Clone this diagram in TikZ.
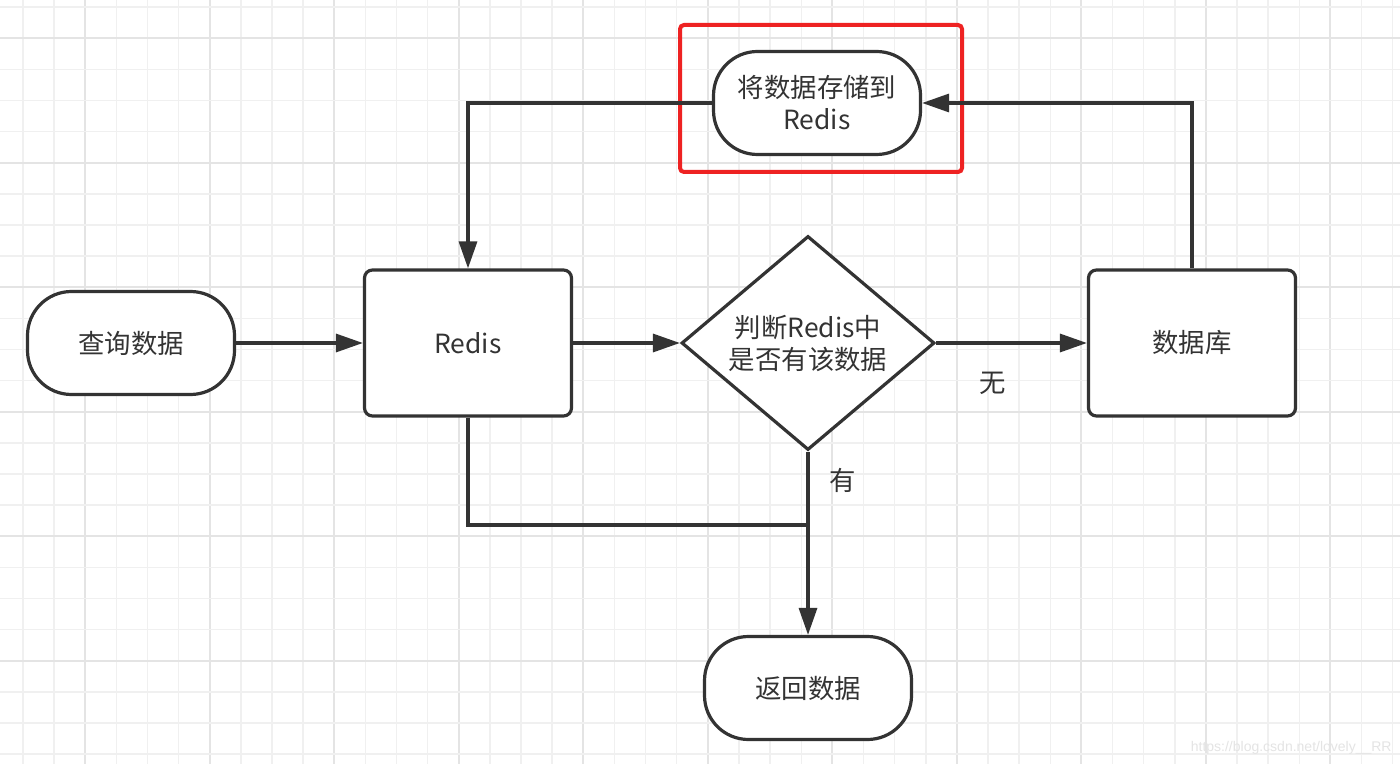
\documentclass[tikz,border=0pt]{standalone}
\usepackage{fontspec}
\newfontfamily\cjk{Noto Sans CJK SC}
\newfontfamily\wmfont{Liberation Sans}
\usetikzlibrary{shapes.geometric,arrows.meta}
\definecolor{ink}{HTML}{333333}
\definecolor{gridminor}{HTML}{F0F0F0}
\definecolor{gridmajor}{HTML}{E4E4E4}
\definecolor{hl}{HTML}{EE2222}
\tikzset{
  base/.style={draw=ink, line width=1.6pt, fill=white, text=ink, inner sep=0pt,
    font=\cjk\fontsize{13.2}{16}\selectfont, align=center},
  term/.style={base, rectangle, rounded corners=22pt, minimum width=103.5pt, minimum height=51.5pt},
  procbox/.style={base, rectangle, rounded corners=4pt, minimum width=103.5pt, minimum height=73pt},
  decide/.style={base, diamond, aspect=1.18, minimum width=126.5pt, minimum height=107pt},
  conn/.style={draw=ink, line width=1.6pt},
  arr/.style={conn, -{Triangle[length=13.5pt,width=9pt]}},
  lbl/.style={text=ink, font=\cjk\fontsize{13.2}{16}\selectfont, inner sep=0pt}
}
\begin{document}
\begin{tikzpicture}[x=0.5pt,y=-0.5pt]
\useasboundingbox (0,0) rectangle (1400,764);
\fill[white] (0,0) rectangle (1400,764);
% grid
\foreach \k in {0,...,44}{
  \pgfmathsetmacro{\gx}{23+31.13*\k}
  \pgfmathtruncatemacro{\m}{mod(\k,4)}
  \ifnum\m=2
    \draw[gridmajor, line width=1pt] (\gx,0) -- (\gx,764);
  \else
    \draw[gridminor, line width=0.75pt] (\gx,0) -- (\gx,764);
  \fi
}
\foreach \k in {0,...,24}{
  \pgfmathsetmacro{\gy}{7+31.13*\k}
  \pgfmathtruncatemacro{\m}{mod(\k,4)}
  \ifnum\m=1
    \draw[gridmajor, line width=1pt] (0,\gy) -- (1400,\gy);
  \else
    \draw[gridminor, line width=0.75pt] (0,\gy) -- (1400,\gy);
  \fi
}
% highlight box
\draw[hl, line width=2pt, rounded corners=2pt] (680,25) rectangle (962,172);
% nodes
\node[term] (q) at (131,343) {查询数据};
\node[procbox] (r) at (468,343) {Redis};
\node[decide] (d) at (808,343) {判断Redis中\\是否有该数据};
\node[procbox] (db) at (1192,343) {数据库};
\node[term] (s) at (817,103) {将数据存储到\\Redis};
\node[term] (ret) at (808,688) {返回数据};
\coordinate (join) at (808,525);
% connectors
\draw[arr] (q.east) -- (r.west);
\draw[arr] (r.east) -- (d.west);
\draw[arr] (d.east) -- (db.west);
\draw[arr] (d.south) -- (ret.north);
\draw[conn] (r.south) |- (join);
\draw[arr] (db.north) |- (s.east);
\draw[arr] (s.west) -| (r.north);
% labels
\node[lbl] (wu) at (993,383) {无};
\node[lbl] (you) at (843,480) {有};
% watermark
\node[text=gridmajor, font=\wmfont\fontsize{7}{8}\selectfont, inner sep=0pt, anchor=east] (wm) at (1392,748) {https://blog.csdn.net/lovely\_\_RR};
\end{tikzpicture}
\end{document}
